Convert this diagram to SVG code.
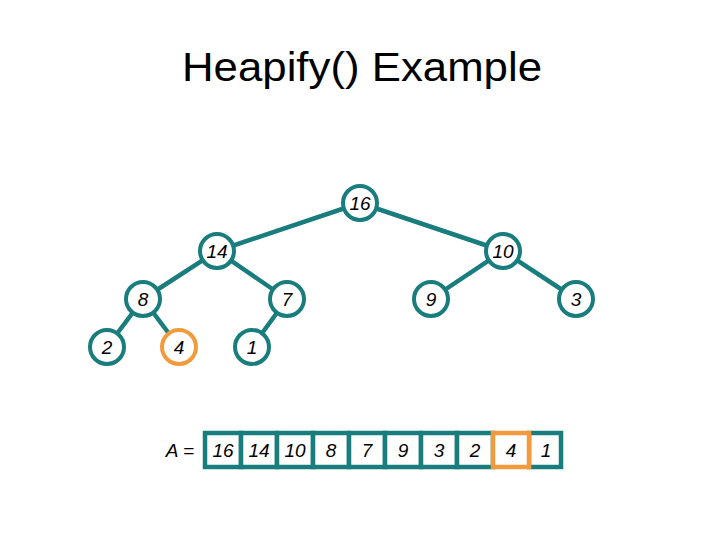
<svg xmlns="http://www.w3.org/2000/svg" width="720" height="540" viewBox="0 0 720 540">
<style>
.edge{stroke:#1a7d7d;stroke-width:4.5;fill:none}
.node circle{fill:#fff;stroke:#1a7d7d;stroke-width:4}
.node.hl circle{stroke:#f29a3c}
.lbl{font-family:"Liberation Sans",Arial,sans-serif;font-style:italic;font-size:19px;fill:#000;text-anchor:middle}
.cell rect{fill:#fff;stroke:#1a7d7d;stroke-width:4.5}
.cell.hl rect{stroke:#f29a3c}
</style>
<rect width="720" height="540" fill="#fff"/>
<text x="182" y="81" font-family="Liberation Sans,Arial,sans-serif" font-size="41" textLength="360" lengthAdjust="spacingAndGlyphs">Heapify() Example</text>
<g id="edges">
<line class="edge" x1="360" y1="203" x2="217" y2="251"/>
<line class="edge" x1="360" y1="203" x2="503" y2="251"/>
<line class="edge" x1="217" y1="251" x2="143" y2="299"/>
<line class="edge" x1="217" y1="251" x2="287" y2="299"/>
<line class="edge" x1="503" y1="251" x2="431" y2="299"/>
<line class="edge" x1="503" y1="251" x2="576" y2="299"/>
<line class="edge" x1="143" y1="299" x2="107" y2="347"/>
<line class="edge" x1="143" y1="299" x2="179" y2="347"/>
<line class="edge" x1="287" y1="299" x2="252" y2="347"/>
</g>
<g id="n16" class="node"><circle cx="360" cy="203" r="17"/><text class="lbl" x="360" y="210">16</text></g>
<g id="n14" class="node"><circle cx="217" cy="251" r="17"/><text class="lbl" x="217" y="258">14</text></g>
<g id="n10" class="node"><circle cx="503" cy="251" r="17"/><text class="lbl" x="503" y="258">10</text></g>
<g id="n8" class="node"><circle cx="143" cy="299" r="17"/><text class="lbl" x="143" y="306">8</text></g>
<g id="n7" class="node"><circle cx="287" cy="299" r="17"/><text class="lbl" x="287" y="306">7</text></g>
<g id="n9" class="node"><circle cx="431" cy="299" r="17"/><text class="lbl" x="431" y="306">9</text></g>
<g id="n3" class="node"><circle cx="576" cy="299" r="17"/><text class="lbl" x="576" y="306">3</text></g>
<g id="n2" class="node"><circle cx="107" cy="347" r="17"/><text class="lbl" x="107" y="354">2</text></g>
<g id="n4" class="node hl"><circle cx="179" cy="347" r="17"/><text class="lbl" x="179" y="354">4</text></g>
<g id="n1" class="node"><circle cx="252" cy="347" r="17"/><text class="lbl" x="252" y="354">1</text></g>
<g id="array">
<text class="lbl" x="180" y="457">A =</text>
<g class="cell"><rect x="205" y="433" width="36" height="34"/><text class="lbl" x="223" y="457">16</text></g>
<g class="cell"><rect x="241" y="433" width="36" height="34"/><text class="lbl" x="259" y="457">14</text></g>
<g class="cell"><rect x="277" y="433" width="36" height="34"/><text class="lbl" x="295" y="457">10</text></g>
<g class="cell"><rect x="313" y="433" width="36" height="34"/><text class="lbl" x="331" y="457">8</text></g>
<g class="cell"><rect x="349" y="433" width="36" height="34"/><text class="lbl" x="367" y="457">7</text></g>
<g class="cell"><rect x="385" y="433" width="36" height="34"/><text class="lbl" x="403" y="457">9</text></g>
<g class="cell"><rect x="421" y="433" width="36" height="34"/><text class="lbl" x="439" y="457">3</text></g>
<g class="cell"><rect x="457" y="433" width="36" height="34"/><text class="lbl" x="475" y="457">2</text></g>
<g class="cell"><rect x="529" y="433" width="32" height="34"/><text class="lbl" x="546" y="457">1</text></g>
<g class="cell hl"><rect x="493" y="433" width="36" height="34"/><text class="lbl" x="511" y="457">4</text></g>
</g>
</svg>
